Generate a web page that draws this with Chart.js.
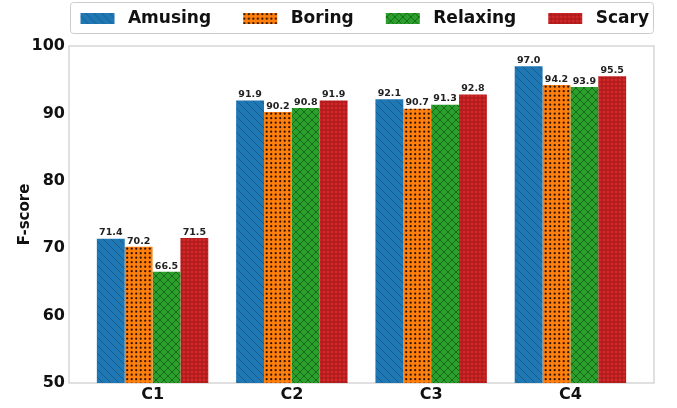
<!DOCTYPE html>
<html>
<head>
<meta charset="utf-8">
<script src="https://cdn.jsdelivr.net/npm/chart.js@4/dist/chart.umd.min.js"></script>
<style>
    html, body { margin: 0; padding: 0; background: #ffffff; }
    #wrap { width: 677px; height: 408px; }
</style>
</head>
<body>
<div id="wrap"><canvas id="fscoreChart" width="677" height="408"></canvas></div>
<script>
// Chart data
var categories = ['C1', 'C2', 'C3', 'C4'];
var amusing = [71.4, 91.9, 92.1, 97.0];
var boring = [70.2, 90.2, 90.7, 94.2];
var relaxing = [66.5, 90.8, 91.3, 93.9];
var scary = [71.5, 91.9, 92.8, 95.5];
var yTicks = [50, 60, 70, 80, 90, 100];

var FONT = "'DejaVu Sans', sans-serif";
var FRAME = '#cccccc';

// hatch tiles, like the matplotlib hatches
function makeTile(bg, size, draw) {
    var c = document.createElement('canvas');
    c.width = size;
    c.height = size;
    var g = c.getContext('2d');
    g.fillStyle = bg;
    g.fillRect(0, 0, size, size);
    draw(g, size);
    return c;
}

var blueTile = makeTile('#1f77b4', 8, function(g, s) {
    g.strokeStyle = '#185d8f';
    g.lineWidth = 1;
    g.beginPath();
    g.moveTo(-1, -1); g.lineTo(s + 1, s + 1);
    g.moveTo(-1, s - 1); g.lineTo(1, s + 1);
    g.moveTo(s - 1, -1); g.lineTo(s + 1, 1);
    g.stroke();
});

var orangeTile = makeTile('#ff7f0e', 9, function(g, s) {
    g.fillStyle = '#2a1400';
    [[1.2, 1.2], [5.7, 1.2], [1.2, 5.7], [5.7, 5.7]].forEach(function(p) {
        g.beginPath();
        g.arc(p[0], p[1], 1.1, 0, Math.PI * 2);
        g.fill();
    });
});

var greenTile = makeTile('#2ca02c', 8, function(g, s) {
    g.strokeStyle = '#176b17';
    g.lineWidth = 1;
    g.beginPath();
    g.moveTo(-1, -1); g.lineTo(s + 1, s + 1);
    g.moveTo(-1, s + 1); g.lineTo(s + 1, -1);
    g.stroke();
});

var redTile = makeTile('#d62728', 4, function(g, s) {
    g.strokeStyle = '#8e1516';
    g.lineWidth = 0.8;
    g.beginPath();
    g.arc(2, 2, 1.2, 0, Math.PI * 2);
    g.stroke();
});

var ctx = document.getElementById('fscoreChart').getContext('2d');

function pattern(tile) {
    return ctx.createPattern(tile, 'repeat');
}

// legend patch: blank room on the left (gap to previous item), hatched box, small gap to the text
function legendPatch(tile) {
    var c = document.createElement('canvas');
    c.width = 66;
    c.height = 11;
    var g = c.getContext('2d');
    g.fillStyle = g.createPattern(tile, 'repeat');
    g.fillRect(27, 0, 34, 11);
    return c;
}

function toPoints(values) {
    return values.map(function(v, i) { return { x: i, y: v }; });
}

var seriesInfo = [
    { label: 'Amusing', values: amusing, tile: blueTile },
    { label: 'Boring', values: boring, tile: orangeTile },
    { label: 'Relaxing', values: relaxing, tile: greenTile },
    { label: 'Scary', values: scary, tile: redTile }
];

var datasets = seriesInfo.map(function(s) {
    return {
        label: s.label,
        data: toPoints(s.values),
        backgroundColor: pattern(s.tile),
        borderWidth: 0,
        pointStyle: legendPatch(s.tile),
        barPercentage: 1.0,
        categoryPercentage: 0.8
    };
});

// frame around the legend and the plot box
var frames = {
    id: 'frames',
    beforeDraw: function(chart) {
        var a = chart.chartArea;
        var c = chart.ctx;
        c.save();
        c.strokeStyle = FRAME;
        c.lineWidth = 1;
        c.beginPath();
        c.roundRect(a.left + 1.5, 2.5, a.right - a.left - 2, 31, 3);
        c.stroke();
        c.lineWidth = 1.2;
        c.strokeRect(a.left, a.top, a.right - a.left, a.bottom - a.top);
        c.restore();
    }
};

// numbers on top of the bars
var barValues = {
    id: 'barValues',
    afterDatasetsDraw: function(chart) {
        var c = chart.ctx;
        c.save();
        c.font = 'bold 9.5px ' + FONT;
        c.fillStyle = '#222222';
        c.textAlign = 'center';
        c.textBaseline = 'bottom';
        chart.data.datasets.forEach(function(ds, di) {
            var meta = chart.getDatasetMeta(di);
            meta.data.forEach(function(bar, i) {
                c.fillText(ds.data[i].y.toFixed(1), bar.x, bar.y - 1);
            });
        });
        c.restore();
    }
};

var chart = new Chart(ctx, {
    type: 'bar',
    data: { datasets: datasets },
    plugins: [frames, barValues],
    options: {
        responsive: false,
        animation: false,
        layout: { padding: { left: 4, right: 23, top: 5, bottom: 4 } },
        plugins: {
            legend: {
                position: 'top',
                align: 'end',
                labels: {
                    usePointStyle: true,
                    pointStyleWidth: 66,
                    boxHeight: 11,
                    padding: 5,
                    color: '#111111',
                    font: { family: FONT, size: 17, weight: 'bold' }
                }
            },
            tooltip: { enabled: false }
        },
        scales: {
            x: {
                type: 'linear',
                offset: false,
                min: -0.6,
                max: 3.6,
                afterBuildTicks: function(scale) {
                    scale.ticks = categories.map(function(c, i) { return { value: i }; });
                },
                afterFit: function(scale) { scale.height = 21; },
                grid: { display: false, drawTicks: false },
                border: { display: false },
                ticks: {
                    padding: 2,
                    color: '#111111',
                    font: { family: FONT, size: 16, weight: 'bold' },
                    callback: function(v) { return categories[v]; }
                }
            },
            // empty strip between the legend and the plot
            xTop: {
                type: 'linear',
                position: 'top',
                min: 0,
                max: 1,
                afterFit: function(scale) { scale.height = 9; },
                grid: { display: false, drawTicks: false },
                border: { display: false },
                ticks: { display: false }
            },
            y: {
                min: 50,
                max: 100,
                afterBuildTicks: function(scale) {
                    scale.ticks = yTicks.map(function(v) { return { value: v }; });
                },
                afterFit: function(scale) { scale.width = 65; },
                grid: { display: false, drawTicks: false },
                border: { display: false },
                title: {
                    display: true,
                    text: 'F-score',
                    color: '#111111',
                    padding: { top: 12, bottom: 4 },
                    font: { family: FONT, size: 15, weight: 'bold' }
                },
                ticks: {
                    padding: 4,
                    color: '#111111',
                    font: { family: FONT, size: 16, weight: 'bold' }
                }
            }
        }
    }
});
</script>
</body>
</html>
